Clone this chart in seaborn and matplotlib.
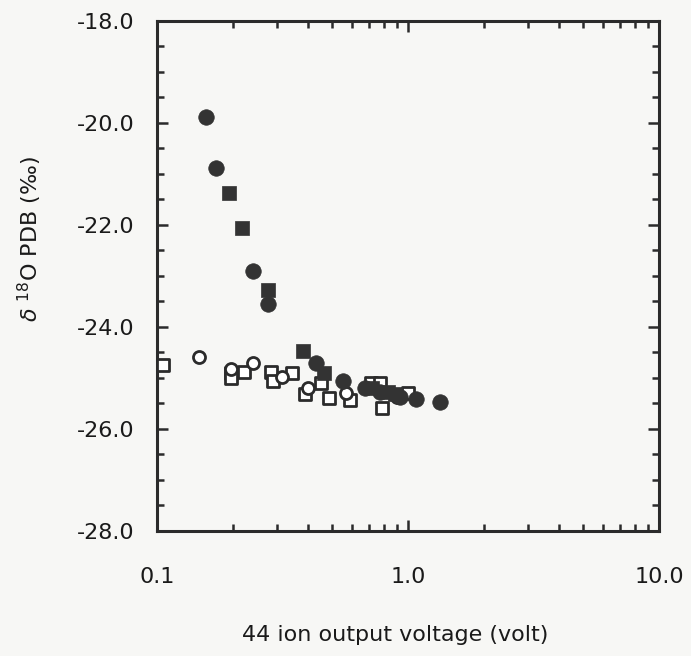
import matplotlib
matplotlib.use("Agg")
import matplotlib.pyplot as plt
import seaborn as sns
import pandas as pd
from matplotlib.ticker import FixedLocator, NullFormatter, MultipleLocator

# ---- data ----
fc_x = [0.157, 0.172, 0.241, 0.277, 0.43, 0.551, 0.674, 0.774, 0.929, 1.076, 1.34]
fc_y = [-19.88, -20.88, -22.90, -23.55, -24.70, -25.06, -25.20, -25.28, -25.37, -25.41, -25.47]

fs_x = [0.194, 0.218, 0.277, 0.382, 0.463, 0.719, 0.832, 0.89]
fs_y = [-21.37, -22.06, -23.27, -24.47, -24.90, -25.20, -25.27, -25.31]

oc_x = [0.147, 0.197, 0.241, 0.315, 0.40, 0.566, 0.903]
oc_y = [-24.59, -24.82, -24.71, -24.98, -25.20, -25.29, -25.37]

os_x = [0.106, 0.197, 0.197, 0.222, 0.284, 0.289, 0.345, 0.389, 0.45, 0.484, 0.587, 0.712, 0.774, 0.788, 1.0]
os_y = [-24.75, -24.90, -25.00, -24.88, -24.88, -25.06, -24.90, -25.31, -25.10, -25.39, -25.43, -25.10, -25.10, -25.59, -25.29]

x_ticks = [0.1, 1.0, 10.0]
x_ticklabels = ["0.1", "1.0", "10.0"]
y_ticks = [-18.0, -20.0, -22.0, -24.0, -26.0, -28.0]
y_ticklabels = ["-18.0", "-20.0", "-22.0", "-24.0", "-26.0", "-28.0"]

df_fc = pd.DataFrame({"v": fc_x, "d": fc_y})
df_fs = pd.DataFrame({"v": fs_x, "d": fs_y})
df_oc = pd.DataFrame({"v": oc_x, "d": oc_y})
df_os = pd.DataFrame({"v": os_x, "d": os_y})

sns.set_theme(style="ticks")
plt.rcParams["font.family"] = ["DejaVu Sans"]
plt.rcParams["mathtext.fontset"] = "dejavusans"

ink = "#2b2b2b"
bg = "#f7f7f5"

fig = plt.figure(figsize=(6.91, 6.56), dpi=100, facecolor=bg)
ax = fig.add_axes([157/691, 1-531/656, (659-157)/691, (531-21)/656])
ax.set_facecolor(bg)

sns.scatterplot(data=df_os, x="v", y="d", ax=ax, marker="s", s=70,
                facecolor="white", edgecolor=ink, linewidth=2.0, zorder=3)
sns.scatterplot(data=df_oc, x="v", y="d", ax=ax, marker="o", s=75,
                facecolor="white", edgecolor=ink, linewidth=2.0, zorder=3)
sns.scatterplot(data=df_fs, x="v", y="d", ax=ax, marker="s", s=105,
                color="#333333", edgecolor="#333333", linewidth=0.5, zorder=4)
sns.scatterplot(data=df_fc, x="v", y="d", ax=ax, marker="o", s=125,
                color="#333333", edgecolor="#333333", linewidth=0.5, zorder=4)

ax.set_xscale("log")
ax.set_xlim(0.1, 10.0)
ax.set_ylim(-28.0, -18.0)

ax.xaxis.set_major_locator(FixedLocator(x_ticks))
ax.set_xticklabels(x_ticklabels)
minor_x = [m * d for d in (0.1, 1.0) for m in range(2, 10)]
ax.xaxis.set_minor_locator(FixedLocator(minor_x))
ax.xaxis.set_minor_formatter(NullFormatter())

ax.yaxis.set_major_locator(FixedLocator(y_ticks))
ax.set_yticklabels(y_ticklabels)
ax.yaxis.set_minor_locator(MultipleLocator(0.5))

for s in ax.spines.values():
    s.set_linewidth(2.2)
    s.set_color(ink)

ax.tick_params(which="major", direction="in", length=8, width=1.8, color=ink,
               top=True, right=True, labelsize=16, labelcolor="#1a1a1a")
ax.tick_params(which="minor", direction="in", length=5, width=1.8, color=ink,
               top=True, right=True)
ax.tick_params(axis="x", which="major", pad=26)
ax.tick_params(axis="y", which="major", pad=16)

ax.set_xlabel("44 ion output voltage (volt)", fontsize=16, color="#1a1a1a", va="center")
ax.xaxis.set_label_coords((395-157)/502, (531-635)/510)
ax.set_ylabel(r"$\mathit{\delta}$ $^{18}$O PDB (‰)", fontsize=16, color="#1a1a1a", va="center")
ax.yaxis.set_label_coords((30-157)/502, (531-239)/510)

fig.savefig("out.png", dpi=100, facecolor=bg)
